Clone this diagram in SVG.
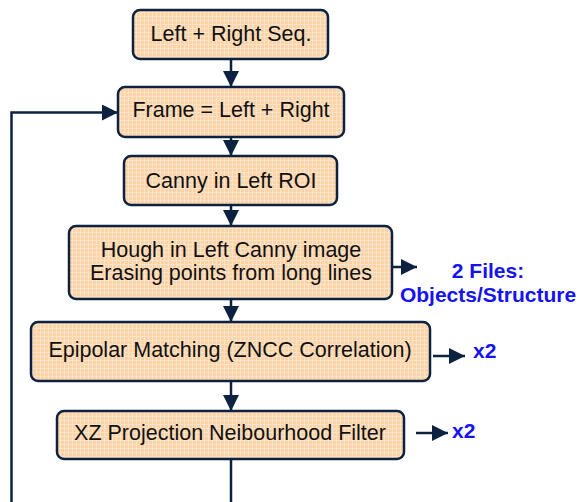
<svg xmlns="http://www.w3.org/2000/svg" width="579" height="502" viewBox="0 0 579 502">
<defs>
<pattern id="tex" width="4" height="4" patternUnits="userSpaceOnUse">
<rect width="4" height="4" fill="#fbd3a9"/>
<path d="M0 0.5H4M0.5 0V4" stroke="#fde3c6" stroke-width="1"/>
</pattern>
<marker id="ah" viewBox="0 0 10 10" refX="10" refY="5" markerWidth="6.4" markerHeight="6.4" orient="auto" markerUnits="strokeWidth">
<path d="M0 0L10 5L0 10Z" fill="#0d2240"/>
</marker>
<style>
.box{fill:url(#tex);stroke:#0d2240;stroke-width:2.5}
.t{font-family:"Liberation Sans",Arial,sans-serif;font-size:21.5px;fill:#111;text-anchor:middle}
.b{font-family:"Liberation Sans",Arial,sans-serif;font-size:21px;font-weight:bold;fill:#1414f0}
.c{stroke:#0d2240;stroke-width:2.5;fill:none}
</style>
</defs>
<g id="connectors">
<line class="c" x1="231" y1="59" x2="231" y2="87" marker-end="url(#ah)"/>
<line class="c" x1="231" y1="137" x2="231" y2="156" marker-end="url(#ah)"/>
<line class="c" x1="231" y1="205" x2="231" y2="226" marker-end="url(#ah)"/>
<line class="c" x1="231" y1="299" x2="231" y2="322" marker-end="url(#ah)"/>
<line class="c" x1="231" y1="381" x2="231" y2="411" marker-end="url(#ah)"/>
<line class="c" x1="231" y1="459" x2="231" y2="502"/>
<polyline class="c" points="11.5,502 11.5,112.5 118,112.5" marker-end="url(#ah)"/>
<line class="c" x1="392" y1="267" x2="417" y2="267" marker-end="url(#ah)"/>
<line class="c" x1="433" y1="356" x2="465" y2="356" marker-end="url(#ah)"/>
<line class="c" x1="416" y1="433" x2="448" y2="433" marker-end="url(#ah)"/>
</g>
<g id="n1"><rect class="box" x="133" y="10" width="195" height="49" rx="7"/><text class="t" x="231" y="41">Left + Right Seq.</text></g>
<g id="n2"><rect class="box" x="118" y="87" width="226" height="50" rx="7"/><text class="t" x="231" y="117">Frame = Left + Right</text></g>
<g id="n3"><rect class="box" x="124" y="156" width="213" height="49" rx="7"/><text class="t" x="231" y="188">Canny in Left ROI</text></g>
<g id="n4"><rect class="box" x="69" y="226" width="323" height="73" rx="7"/><text class="t" x="231" y="257">Hough in Left Canny image</text><text class="t" x="231" y="280">Erasing points from long lines</text></g>
<g id="n5"><rect class="box" x="31" y="322" width="399" height="59" rx="7"/><text class="t" x="230" y="357">Epipolar Matching (ZNCC Correlation)</text></g>
<g id="n6"><rect class="box" x="57" y="411" width="347" height="48" rx="7"/><text class="t" x="230" y="440">XZ Projection Neibourhood Filter</text></g>
<g id="labels">
<text class="b" x="488" y="278" text-anchor="middle">2 Files:</text>
<text class="b" x="488" y="302" text-anchor="middle">Objects/Structure</text>
<text class="b" x="473" y="358">x2</text>
<text class="b" x="452" y="438">x2</text>
</g>
</svg>
